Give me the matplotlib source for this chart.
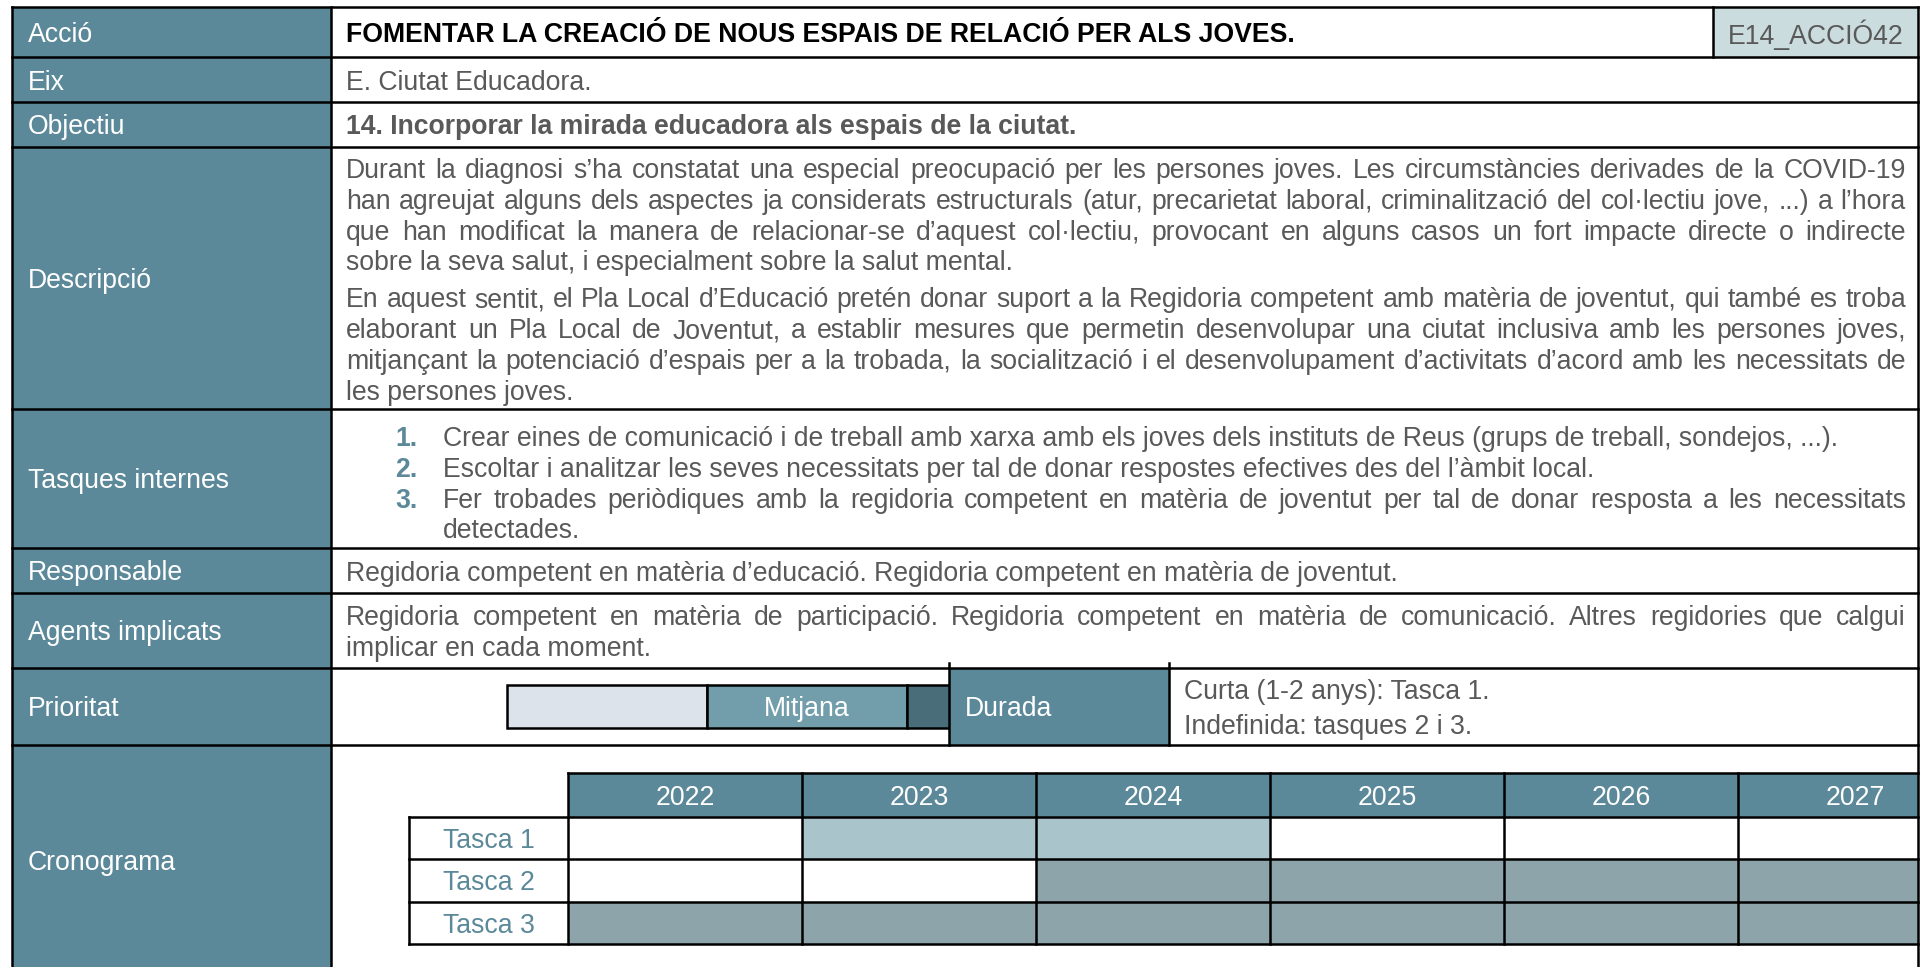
import matplotlib
matplotlib.use('Agg')
import matplotlib.pyplot as plt
from matplotlib.patches import Rectangle
from matplotlib.font_manager import FontProperties

plt.rcParams['font.family'] = ['Liberation Sans', 'DejaVu Sans']

# ---- data (text of the fitxa) ----
rowLabels = ['Acció', 'Eix', 'Objectiu', 'Descripció', 'Tasques internes',
             'Responsable', 'Agents implicats', 'Prioritat', 'Cronograma']
actionTitle = 'FOMENTAR LA CREACIÓ DE NOUS ESPAIS DE RELACIÓ PER ALS JOVES.'
actionCode = 'E14_ACCIÓ42'
axisText = 'E. Ciutat Educadora.'
objectiveText = '14. Incorporar la mirada educadora als espais de la ciutat.'
descriptionParagraphs = [
    ['Durant la diagnosi s’ha constatat una especial preocupació per les persones joves. Les circumstàncies derivades de la COVID-19',
     'han agreujat alguns dels aspectes ja considerats estructurals (atur, precarietat laboral, criminalització del col·lectiu jove, ...) a l’hora',
     'que han modificat la manera de relacionar-se d’aquest col·lectiu, provocant en alguns casos un fort impacte directe o indirecte',
     'sobre la seva salut, i especialment sobre la salut mental.'],
    ['En aquest sentit, el Pla Local d’Educació pretén donar suport a la Regidoria competent amb matèria de joventut, qui també es troba',
     'elaborant un Pla Local de Joventut, a establir mesures que permetin desenvolupar una ciutat inclusiva amb les persones joves,',
     'mitjançant la potenciació d’espais per a la trobada, la socialització i el desenvolupament d’activitats d’acord amb les necessitats de',
     'les persones joves.'],
]
internalTasks = [
    ['Crear eines de comunicació i de treball amb xarxa amb els joves dels instituts de Reus (grups de treball, sondejos, ...).'],
    ['Escoltar i analitzar les seves necessitats per tal de donar respostes efectives des del l’àmbit local.'],
    ['Fer trobades periòdiques amb la regidoria competent en matèria de joventut per tal de donar resposta a les necessitats',
     'detectades.'],
]
responsibleLines = ['Regidoria competent en matèria d’educació. Regidoria competent en matèria de joventut.']
agentLines = ['Regidoria competent en matèria de participació. Regidoria competent en matèria de comunicació. Altres regidories que calgui',
              'implicar en cada moment.']
priorityLevels = ['', 'Mitjana', '']
durationLabel = 'Durada'
durationLines = ['Curta (1-2 anys): Tasca 1.', 'Indefinida: tasques 2 i 3.']
years = ['2022', '2023', '2024', '2025', '2026', '2027']
tasks = ['Tasca 1', 'Tasca 2', 'Tasca 3']
# 0 = no activity, 1 = short term, 2 = indefinite
schedule = [[0, 1, 1, 0, 0, 0],
            [0, 0, 2, 2, 2, 2],
            [2, 2, 2, 2, 2, 2]]

# ---- styles / layout (pixels) ----
TEAL = '#5c8999'
GREY_TEXT = '#595959'
CODE_BG = '#cbdcdf'
PRIORITY_COLORS = ['#dce3ea', '#729dab', '#4a6e79']
SCHEDULE_COLORS = ['white', '#aac4cc', '#8ea4ab']
FS = 19.2
LW = 1.8
YOFF = 3  # small downward nudge of text baselines

W, H = 1928, 967
LEFT, LABEL_RIGHT, RIGHT = 12, 331, 1918
CODE_LEFT = 1713
rowEdges = [7, 57, 102, 147, 409, 548, 593, 668, 745, 975]
TEXT_X = 346
TEXT_RIGHT = 1906
LINE_H = 30.8

fig = plt.figure(figsize=(W / 100, H / 100), dpi=100)
ax = fig.add_axes([0, 0, 1, 1])
ax.set_xlim(0, W)
ax.set_ylim(H, 0)
ax.axis('off')
renderer = fig.canvas.get_renderer()

normal = FontProperties(family=['Liberation Sans', 'DejaVu Sans'], size=FS)
bold = FontProperties(family=['Liberation Sans', 'DejaVu Sans'], size=FS, weight='bold')


def hline(y, x0, x1, lw=LW):
    ax.plot([x0, x1], [y, y], color='black', lw=lw, solid_capstyle='projecting', zorder=5)


def vline(x, y0, y1, lw=LW):
    ax.plot([x, x], [y0, y1], color='black', lw=lw, solid_capstyle='projecting', zorder=5)


def put(x, y, s, prop=normal, color=GREY_TEXT, **kw):
    return ax.text(x, y + YOFF, s, fontproperties=prop, color=color, va='center', **kw)


def writeLine(text, x0, x1, y, prop, color, justify):
    # justified line: spread the words so they fill x0..x1
    words = text.split(' ')
    if not justify or len(words) == 1:
        put(x0, y, text, prop, color, ha='left')
        return
    widths = [renderer.get_text_width_height_descent(w, prop, ismath=False)[0] for w in words]
    gap = (x1 - x0 - sum(widths)) / (len(words) - 1)
    x = x0
    for w, wd in zip(words, widths):
        put(x, y, w, prop, color, ha='left')
        x += wd + gap


def writeParagraph(lines, x0, x1, yStart, prop=normal, color=GREY_TEXT, lineH=LINE_H, justify=True):
    for i, line in enumerate(lines):
        writeLine(line, x0, x1, yStart + i * lineH, prop, color, justify and i < len(lines) - 1)
    return yStart + len(lines) * lineH


# label column and code cell
ax.add_patch(Rectangle((LEFT, rowEdges[0]), LABEL_RIGHT - LEFT, rowEdges[-1] - rowEdges[0],
                       facecolor=TEAL, edgecolor='none'))
ax.add_patch(Rectangle((CODE_LEFT, rowEdges[0]), RIGHT - CODE_LEFT, rowEdges[1] - rowEdges[0],
                       facecolor=CODE_BG, edgecolor='none'))
for i, label in enumerate(rowLabels):
    yc = (rowEdges[i] + rowEdges[i + 1]) / 2
    put(28, yc, label, color='white', ha='left')

# table grid
for y in rowEdges[:-1]:
    hline(y, LEFT, RIGHT)
for x in (LEFT, LABEL_RIGHT, RIGHT):
    vline(x, rowEdges[0], H + 10)
vline(CODE_LEFT, rowEdges[0], rowEdges[1])

# simple rows
put(TEXT_X, (rowEdges[0] + rowEdges[1]) / 2, actionTitle, bold, 'black')
put((CODE_LEFT + RIGHT) / 2, (rowEdges[0] + rowEdges[1]) / 2, actionCode, ha='center')
put(TEXT_X, (rowEdges[1] + rowEdges[2]) / 2, axisText)
put(TEXT_X, (rowEdges[2] + rowEdges[3]) / 2, objectiveText, bold)

# description
y = 168
y = writeParagraph(descriptionParagraphs[0], TEXT_X, TEXT_RIGHT, y)
writeParagraph(descriptionParagraphs[1], TEXT_X, TEXT_RIGHT, y + 6)

# internal tasks (numbered list)
y = 436
for n, item in enumerate(internalTasks, start=1):
    put(395, y, f'{n}.', bold, TEAL)
    y = writeParagraph(item, 443, TEXT_RIGHT, y)

writeParagraph(responsibleLines, TEXT_X, TEXT_RIGHT, 571)
writeParagraph(agentLines, TEXT_X, TEXT_RIGHT, 615)

# priority bar
barLeft, barTop, segW, barH = 507, 685, 200, 43
for i, (lvl, col) in enumerate(zip(priorityLevels, PRIORITY_COLORS)):
    x0 = barLeft + i * segW
    ax.add_patch(Rectangle((x0, barTop), segW, barH, facecolor=col, edgecolor='black', lw=LW, zorder=3))
    if lvl:
        put(x0 + segW / 2, barTop + barH / 2, lvl, color='white', ha='center', zorder=4)

# duration cell
durLeft, durRight = 949, 1169
ax.add_patch(Rectangle((durLeft, rowEdges[7]), durRight - durLeft, rowEdges[8] - rowEdges[7],
                       facecolor=TEAL, edgecolor='none', zorder=4))
vline(durLeft, rowEdges[7] - 5, rowEdges[8])
vline(durRight, rowEdges[7] - 5, rowEdges[8])
put(durLeft + 16, (rowEdges[7] + rowEdges[8]) / 2, durationLabel, color='white', zorder=6)
writeParagraph(durationLines, durRight + 15, TEXT_RIGHT, 689, lineH=35.5, justify=False)

# chronogram
ganttLeft, colW = 568, 234
taskLeft = 409
headTop, headBottom, rowH = 773, 817, 42.3
for j, yr in enumerate(years):
    x0 = ganttLeft + j * colW
    x1 = min(x0 + colW, RIGHT)
    ax.add_patch(Rectangle((x0, headTop), x1 - x0, headBottom - headTop, facecolor=TEAL, edgecolor='none'))
    put(x0 + colW / 2, (headTop + headBottom) / 2, yr, color='white', ha='center')
    vline(x0, headTop, headBottom + rowH * len(tasks))
for i, task in enumerate(tasks):
    y0 = headBottom + i * rowH
    for j, state in enumerate(schedule[i]):
        x0 = ganttLeft + j * colW
        x1 = min(x0 + colW, RIGHT)
        ax.add_patch(Rectangle((x0, y0), x1 - x0, rowH, facecolor=SCHEDULE_COLORS[state], edgecolor='none'))
    put((taskLeft + ganttLeft) / 2, y0 + rowH / 2, task, color=TEAL, ha='center')
hline(headTop, ganttLeft, RIGHT)
for i in range(len(tasks) + 1):
    hline(headBottom + i * rowH, taskLeft, RIGHT)
vline(taskLeft, headBottom, headBottom + rowH * len(tasks))

fig.savefig('out.png', dpi=100)
